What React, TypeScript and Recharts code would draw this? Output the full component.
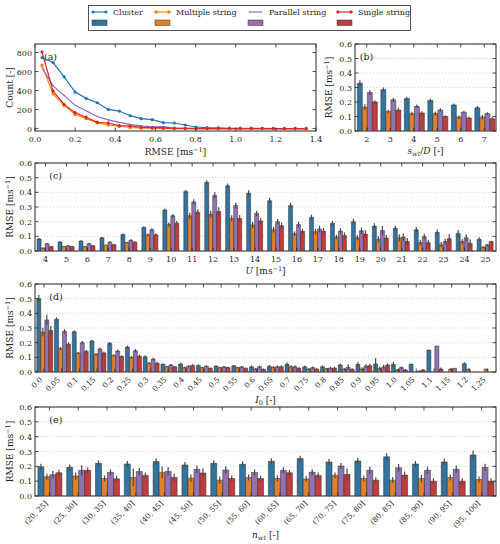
import React from 'react';
import {
  LineChart,
  Line,
  BarChart,
  Bar,
  ErrorBar,
  XAxis,
  YAxis,
  CartesianGrid,
  ReferenceArea,
} from 'recharts';

const FONT = '"DejaVu Serif", "Liberation Serif", serif';
const INK = '#262626';
const TICK = 3.5;
const AXIS_W = 35;

const seriesNames = ['Cluster', 'Multiple string', 'Parallel string', 'Single string'];
const lineColors = ['#1f77b4', '#ff7f0e', '#9467bd', '#d62728'];
const barColors = ['#3274a1', '#e1812c', '#9372b2', '#c03d3e'];
const markerKinds = ['circle', 'square', 'none', 'diamond'];

// (a) RMSE histogram, bin centres and counts
const rmseBins = [0.035, 0.09, 0.145, 0.2, 0.255, 0.31, 0.365, 0.42, 0.474, 0.529, 0.584, 0.639, 0.694, 0.748, 0.803, 0.858, 0.913, 0.968, 1.022, 1.077, 1.132, 1.187, 1.242, 1.296, 1.351];
const countCluster = [747, 695, 545, 384, 318, 272, 202, 185, 136, 105, 94, 63, 59, 38, 17, 10, 7, 4, 3, 2, 2, 1, 1, 0, 1];
const countMultiple = [665, 365, 245, 148, 105, 62, 38, 25, 12, 6, 4, 2, 1, 1, 0, 0, 0, 0, 0, 0, 0, 0, 0, 0, 0];
const countParallel = [640, 450, 350, 245, 188, 128, 92, 65, 45, 28, 18, 20, 5, 3, 1, 1, 0, 0, 0, 0, 0, 0, 0, 0, 0];
const countSingle = [806, 395, 255, 168, 119, 66, 59, 31, 28, 14, 10, 7, 3, 2, 2, 1, 1, 1, 0, 0, 0, 0, 0, 0, 0];
const rmseTicks = [0, 0.2, 0.4, 0.6, 0.8, 1.0, 1.2, 1.4];
const countTicks = [0, 200, 400, 600, 800];
const rmseTickLabels = ['0.0', '0.2', '0.4', '0.6', '0.8', '1.0', '1.2', '1.4'];

// (b) turbine spacing
const spacingCats = ['2', '3', '4', '5', '6', '7'];
const bCluster = [0.33, 0.285, 0.225, 0.21, 0.18, 0.16];
const bMultiple = [0.165, 0.135, 0.12, 0.12, 0.095, 0.095];
const bParallel = [0.265, 0.215, 0.17, 0.145, 0.13, 0.12];
const bSingle = [0.2, 0.145, 0.125, 0.1, 0.09, 0.085];
const bClusterErr = [0.02, 0.015, 0.012, 0.012, 0.01, 0.012];
const bMultipleErr = [0.02, 0.012, 0.012, 0.015, 0.012, 0.015];
const bParallelErr = [0.018, 0.015, 0.012, 0.012, 0.01, 0.01];
const bSingleErr = [0.012, 0.015, 0.012, 0.008, 0.008, 0.01];

// (c) wind speed
const speedCats = ['4', '5', '6', '7', '8', '9', '10', '11', '12', '13', '14', '15', '16', '17', '18', '19', '20', '21', '22', '23', '24', '25'];
const cCluster = [0.082, 0.061, 0.068, 0.09, 0.113, 0.16, 0.28, 0.405, 0.468, 0.445, 0.395, 0.343, 0.31, 0.23, 0.19, 0.2, 0.17, 0.155, 0.145, 0.127, 0.12, 0.08];
const cMultiple = [0.02, 0.03, 0.03, 0.04, 0.057, 0.11, 0.18, 0.24, 0.25, 0.222, 0.177, 0.145, 0.118, 0.132, 0.095, 0.09, 0.08, 0.09, 0.057, 0.043, 0.064, 0.025];
const cParallel = [0.05, 0.036, 0.05, 0.06, 0.073, 0.145, 0.24, 0.335, 0.378, 0.31, 0.257, 0.2, 0.18, 0.15, 0.136, 0.138, 0.14, 0.095, 0.098, 0.064, 0.09, 0.041];
const cSingle = [0.03, 0.03, 0.036, 0.043, 0.06, 0.11, 0.19, 0.265, 0.27, 0.222, 0.205, 0.173, 0.134, 0.136, 0.105, 0.116, 0.089, 0.064, 0.057, 0.084, 0.052, 0.064];
const cClusterErr = [0.006, 0.005, 0.006, 0.006, 0.007, 0.008, 0.01, 0.012, 0.014, 0.016, 0.02, 0.02, 0.02, 0.018, 0.016, 0.02, 0.02, 0.018, 0.018, 0.02, 0.024, 0.014];
const cMultipleErr = [0.004, 0.004, 0.004, 0.005, 0.006, 0.01, 0.014, 0.02, 0.024, 0.022, 0.02, 0.02, 0.016, 0.02, 0.016, 0.018, 0.02, 0.025, 0.02, 0.018, 0.016, 0.008];
const cParallelErr = [0.005, 0.005, 0.005, 0.006, 0.007, 0.01, 0.012, 0.018, 0.022, 0.02, 0.018, 0.018, 0.02, 0.022, 0.02, 0.022, 0.03, 0.025, 0.02, 0.02, 0.024, 0.008];
const cSingleErr = [0.004, 0.004, 0.005, 0.005, 0.006, 0.01, 0.014, 0.02, 0.028, 0.024, 0.018, 0.022, 0.018, 0.022, 0.022, 0.026, 0.02, 0.024, 0.02, 0.032, 0.026, 0.006];

// (d) turbulence intensity
const tiCats = ['0.0', '0.05', '0.1', '0.15', '0.2', '0.25', '0.3', '0.35', '0.4', '0.45', '0.5', '0.55', '0.6', '0.65', '0.7', '0.75', '0.8', '0.85', '0.9', '0.95', '1.0', '1.05', '1.1', '1.15', '1.2', '1.25'];
const dCluster = [0.5, 0.36, 0.274, 0.212, 0.196, 0.17, 0.104, 0.053, 0.055, 0.045, 0.04, 0.042, 0.036, 0.04, 0.052, 0.036, 0.036, 0.048, 0.052, 0.055, 0.052, 0.052, 0.15, null, 0.057, null];
const dMultiple = [0.272, 0.16, 0.13, 0.122, 0.113, 0.1, 0.06, 0.037, 0.03, 0.03, 0.03, 0.03, 0.02, 0.032, 0.036, 0.02, 0.023, 0.02, 0.02, 0.025, 0.014, null, null, 0.018, 0.018, 0.02];
const dParallel = [0.355, 0.277, 0.2, 0.157, 0.143, 0.145, 0.088, 0.048, 0.04, 0.04, 0.035, 0.035, 0.036, 0.036, 0.036, 0.03, 0.027, 0.032, 0.04, 0.034, 0.03, 0.007, 0.177, 0.025, null, null];
const dSingle = [0.283, 0.19, 0.14, 0.13, 0.106, 0.108, 0.06, 0.035, 0.045, 0.025, 0.03, 0.025, 0.018, 0.036, 0.025, 0.02, 0.027, 0.018, 0.043, 0.048, 0.014, 0.014, 0.02, null, null, null];
const dClusterErr = [0.025, 0.012, 0.01, 0.008, 0.008, 0.01, 0.01, 0.005, 0.008, 0.006, 0.006, 0.006, 0.008, 0.008, 0.014, 0.008, 0.008, 0.01, 0.014, 0.04, 0.018, 0.006, 0, null, 0.01, null];
const dMultipleErr = [0.03, 0.01, 0.008, 0.008, 0.008, 0.008, 0.008, 0.006, 0.006, 0.006, 0.006, 0.006, 0.008, 0.008, 0.01, 0.006, 0.006, 0.008, 0.012, 0.012, 0.006, null, null, 0.008, 0.006, 0];
const dParallelErr = [0.035, 0.015, 0.012, 0.01, 0.01, 0.012, 0.01, 0.006, 0.006, 0.006, 0.006, 0.006, 0.008, 0.008, 0.01, 0.008, 0.008, 0.02, 0.012, 0.016, 0.008, 0.004, 0, 0, null, null];
const dSingleErr = [0.03, 0.012, 0.01, 0.01, 0.008, 0.01, 0.008, 0.006, 0.008, 0.006, 0.006, 0.006, 0.006, 0.01, 0.008, 0.006, 0.008, 0.008, 0.014, 0.012, 0.006, 0.006, 0.01, null, null, null];

// (e) number of turbines
const countCats = ['(20, 25]', '(25, 30]', '(30, 35]', '(35, 40]', '(40, 45]', '(45, 50]', '(50, 55]', '(55, 60]', '(60, 65]', '(65, 70]', '(70, 75]', '(75, 80]', '(80, 85]', '(85, 90]', '(90, 95]', '(95, 100]'];
const eCluster = [0.197, 0.193, 0.22, 0.216, 0.232, 0.209, 0.22, 0.214, 0.234, 0.252, 0.23, 0.236, 0.264, 0.216, 0.23, 0.277];
const eMultiple = [0.13, 0.134, 0.118, 0.125, 0.159, 0.12, 0.107, 0.125, 0.118, 0.114, 0.139, 0.118, 0.107, 0.118, 0.125, 0.111];
const eParallel = [0.143, 0.173, 0.16, 0.166, 0.166, 0.18, 0.175, 0.159, 0.173, 0.161, 0.202, 0.173, 0.191, 0.173, 0.18, 0.193];
const eSingle = [0.157, 0.173, 0.116, 0.139, 0.125, 0.155, 0.118, 0.118, 0.157, 0.139, 0.145, 0.107, 0.141, 0.1, 0.1, 0.1];
const eClusterErr = [0.02, 0.02, 0.02, 0.02, 0.022, 0.02, 0.02, 0.02, 0.02, 0.02, 0.02, 0.02, 0.025, 0.02, 0.022, 0.03];
const eMultipleErr = [0.02, 0.025, 0.02, 0.06, 0.04, 0.025, 0.025, 0.02, 0.02, 0.02, 0.02, 0.02, 0.02, 0.025, 0.02, 0.02];
const eParallelErr = [0.025, 0.035, 0.02, 0.025, 0.03, 0.025, 0.025, 0.02, 0.02, 0.02, 0.02, 0.025, 0.025, 0.025, 0.025, 0.025];
const eSingleErr = [0.02, 0.02, 0.02, 0.02, 0.025, 0.03, 0.02, 0.02, 0.02, 0.02, 0.04, 0.02, 0.025, 0.02, 0.02, 0.02];

const rmseAxisTicks = [0, 0.1, 0.2, 0.3, 0.4, 0.5, 0.6];

type Row = Record<string, string | number | null>;

const histRows: Row[] = rmseBins.map((x, i) => ({
  x,
  c0: countCluster[i],
  c1: countMultiple[i],
  c2: countParallel[i],
  c3: countSingle[i],
}));

const buildRows = (cats: string[], vals: (number | null)[][], errs: (number | null)[][]): Row[] =>
  cats.map((cat, i) => {
    const r: Row = { cat };
    vals.forEach((v, k) => {
      r['v' + k] = v[i];
      r['e' + k] = errs[k][i];
    });
    return r;
  });

const spacingRows = buildRows(spacingCats, [bCluster, bMultiple, bParallel, bSingle], [bClusterErr, bMultipleErr, bParallelErr, bSingleErr]);
const speedRows = buildRows(speedCats, [cCluster, cMultiple, cParallel, cSingle], [cClusterErr, cMultipleErr, cParallelErr, cSingleErr]);
const tiRows = buildRows(tiCats, [dCluster, dMultiple, dParallel, dSingle], [dClusterErr, dMultipleErr, dParallelErr, dSingleErr]);
const countRows = buildRows(countCats, [eCluster, eMultiple, eParallel, eSingle], [eClusterErr, eMultipleErr, eParallelErr, eSingleErr]);

// inward ticks on bottom and top, label under the bottom one
const xTick = (plotH: number, slant: boolean, fmt?: (v: any) => string) => (p: any) => {
  const { x, y, payload } = p;
  const text = fmt ? fmt(payload.value) : String(payload.value);
  return (
    <g>
      <line x1={x} x2={x} y1={y} y2={y - TICK} stroke={INK} strokeWidth={0.8} />
      <line x1={x} x2={x} y1={y - plotH} y2={y - plotH + TICK} stroke={INK} strokeWidth={0.8} />
      {slant ? (
        <text
          transform={`translate(${x - 1},${y + 8}) rotate(-45)`}
          textAnchor="end"
          fontSize={7.5}
          fontFamily={FONT}
          fill={INK}
        >
          {text}
        </text>
      ) : (
        <text x={x} y={y + 11} textAnchor="middle" fontSize={8} fontFamily={FONT} fill={INK}>
          {text}
        </text>
      )}
    </g>
  );
};

// inward ticks on left and right, label left of the axis
const yTick = (plotW: number, fmt: (v: number) => string) => (p: any) => {
  const { x, y, payload } = p;
  return (
    <g>
      <line x1={x} x2={x + TICK} y1={y} y2={y} stroke={INK} strokeWidth={0.8} />
      <line x1={x + plotW} x2={x + plotW - TICK} y1={y} y2={y} stroke={INK} strokeWidth={0.8} />
      <text x={x - 3} y={y + 3} textAnchor="end" fontSize={8} fontFamily={FONT} fill={INK}>
        {fmt(payload.value)}
      </text>
    </g>
  );
};

const frame = (tag: string, dx: number) => (p: any) => (
  <g>
    <rect x={p.x} y={p.y} width={p.width} height={p.height} fill="none" stroke={INK} strokeWidth={1} />
    <text x={p.x + dx} y={p.y + 15.5} fontSize={9.5} fontFamily={FONT} fill={INK}>
      {tag}
    </text>
  </g>
);

const yTitle = (cx: number, cy: number, body: React.ReactNode) => () => (
  <text transform={`translate(${cx},${cy}) rotate(-90)`} textAnchor="middle" fontSize={9} fontFamily={FONT} fill={INK}>
    {body}
  </text>
);

const xTitle = (cx: number, y: number, body: React.ReactNode) => () => (
  <text x={cx} y={y} textAnchor="middle" fontSize={9} fontFamily={FONT} fill={INK}>
    {body}
  </text>
);

const unit = (
  <>
    <tspan>[ms</tspan>
    <tspan dy={-3.5} fontSize={6.5}>−1</tspan>
    <tspan dy={3.5}>]</tspan>
  </>
);

const rmseTitle = (
  <>
    <tspan>RMSE </tspan>
    {unit}
  </>
);

const marker = (kind: string, cx: number, cy: number, color: string, key?: string) => {
  if (kind === 'circle') return <circle key={key} cx={cx} cy={cy} r={1.6} fill={color} />;
  if (kind === 'square') return <rect key={key} x={cx - 1.5} y={cy - 1.5} width={3} height={3} fill={color} />;
  if (kind === 'diamond')
    return <polygon key={key} points={`${cx},${cy - 2} ${cx + 2},${cy} ${cx},${cy + 2} ${cx - 2},${cy}`} fill={color} />;
  return <circle key={key} cx={cx} cy={cy} r={0.6} fill={color} />;
};

const legendCols = [93, 156, 249, 338];

const LegendBox = () => (
  <svg width={500} height={36} style={{ position: 'absolute', left: 0, top: 0 }}>
    <rect x={88.5} y={5.5} width={322} height={25} fill="#fff" stroke={INK} strokeWidth={0.8} />
    {seriesNames.map((name, i) => {
      const m = legendCols[i];
      return (
        <g key={name}>
          <line x1={m} x2={m + 13} y1={12} y2={12} stroke={lineColors[i]} strokeWidth={1.2} />
          {marker(markerKinds[i], m, 12, lineColors[i])}
          {marker(markerKinds[i], m + 13, 12, lineColors[i])}
          <text x={m + 20} y={15} fontSize={8} fontFamily={FONT} fill={INK}>
            {name}
          </text>
          <rect x={m - 1} y={20} width={15} height={5.5} fill={barColors[i]} stroke="#333" strokeWidth={0.5} />
        </g>
      );
    })}
  </svg>
);

const HistPanel = () => {
  const w = 330;
  const h = 130;
  const mt = 8;
  const mr = 14;
  const xh = 35;
  const plotH = h - mt - xh;
  const plotW = w - AXIS_W - mr;
  return (
    <div style={{ position: 'absolute', left: 0, top: 36 }}>
      <LineChart width={w} height={h} data={histRows} margin={{ top: mt, right: mr, bottom: 0, left: 0 }}>
        <XAxis
          type="number"
          dataKey="x"
          domain={[0, 1.4]}
          ticks={rmseTicks}
          interval={0}
          allowDataOverflow
          tickSize={0}
          tickMargin={0}
          axisLine={false}
          tickLine={false}
          height={xh}
          tick={xTick(plotH, false, (v: number) => rmseTickLabels[rmseTicks.indexOf(v)] ?? v.toFixed(1))}
          label={xTitle(AXIS_W + plotW / 2, mt + plotH + 24, rmseTitle)}
        />
        <YAxis
          type="number"
          domain={[-25, 890]}
          ticks={countTicks}
          interval={0}
          allowDataOverflow
          width={AXIS_W}
          tickSize={0}
          tickMargin={0}
          axisLine={false}
          tickLine={false}
          tick={yTick(plotW, (v) => String(v))}
          label={yTitle(13, mt + plotH / 2, 'Count [-]')}
        />
        {lineColors.map((c, k) => (
          <Line
            key={k}
            dataKey={'c' + k}
            stroke={c}
            strokeWidth={1.2}
            isAnimationActive={false}
            dot={(p: any) => marker(markerKinds[k], p.cx, p.cy, c, `d${k}-${p.index}`)}
            activeDot={false}
          />
        ))}
        <ReferenceArea y1={-25} y2={890} ifOverflow="visible" shape={frame('(a)', 9)} />
      </LineChart>
    </div>
  );
};

type BarPanelProps = {
  data: Row[];
  left: number;
  top: number;
  width: number;
  height: number;
  xh: number;
  tag: string;
  slant?: boolean;
  xLabel: React.ReactNode;
  xLabelDy: number;
  yLabelX: number;
};

const mt = 8;
const mr = 4;

const BarPanel = ({ data, left, top, width, height, xh, tag, slant, xLabel, xLabelDy, yLabelX }: BarPanelProps) => {
  const plotH = height - mt - xh;
  const plotW = width - AXIS_W - mr;
  return (
    <div style={{ position: 'absolute', left, top }}>
      <BarChart
        width={width}
        height={height}
        data={data}
        margin={{ top: mt, right: mr, bottom: 0, left: 0 }}
        barCategoryGap="10%"
        barGap={0}
      >
        <CartesianGrid vertical={false} stroke="#c8c8c8" strokeDasharray="1 2" strokeWidth={0.8} />
        <XAxis
          dataKey="cat"
          interval={0}
          tickSize={0}
          tickMargin={0}
          axisLine={false}
          tickLine={false}
          height={xh}
          tick={xTick(plotH, !!slant)}
          label={xTitle(AXIS_W + plotW / 2, mt + plotH + xLabelDy, xLabel)}
        />
        <YAxis
          type="number"
          domain={[0, 0.6]}
          ticks={rmseAxisTicks}
          interval={0}
          allowDataOverflow
          width={AXIS_W}
          tickSize={0}
          tickMargin={0}
          axisLine={false}
          tickLine={false}
          tick={yTick(plotW, (v) => v.toFixed(1))}
          label={yTitle(yLabelX, mt + plotH / 2, rmseTitle)}
        />
        {barColors.map((c, k) => (
          <Bar key={k} dataKey={'v' + k} fill={c} stroke="#2a2a2a" strokeWidth={0.5} isAnimationActive={false}>
            <ErrorBar dataKey={'e' + k} width={0} stroke="#4a4a4a" strokeWidth={1.2} direction="y" />
          </Bar>
        ))}
        <ReferenceArea y1={0} y2={0.6} ifOverflow="visible" shape={frame(tag, plotW * 0.03 + 0.5)} />
      </BarChart>
    </div>
  );
};

const spacingTitle = (
  <>
    <tspan fontStyle="italic">s</tspan>
    <tspan fontSize={6.5} dy={2} fontStyle="italic">wt</tspan>
    <tspan dy={-2}>/</tspan>
    <tspan fontStyle="italic">D</tspan>
    <tspan> [-]</tspan>
  </>
);

const speedTitle = (
  <>
    <tspan fontStyle="italic">U</tspan>
    <tspan> </tspan>
    {unit}
  </>
);

const tiTitle = (
  <>
    <tspan fontStyle="italic">I</tspan>
    <tspan fontSize={6.5} dy={2}>0</tspan>
    <tspan dy={-2}> [-]</tspan>
  </>
);

const nTitle = (
  <>
    <tspan fontStyle="italic">n</tspan>
    <tspan fontSize={6.5} dy={2} fontStyle="italic">wt</tspan>
    <tspan dy={-2}> [-]</tspan>
  </>
);

export default function App() {
  return (
    <div
      style={{
        position: 'absolute',
        left: 0,
        top: 0,
        width: 500,
        height: 544,
        background: '#fff',
        overflow: 'hidden',
      }}
    >
      <LegendBox />
      <HistPanel />
      <BarPanel data={spacingRows} left={320} top={36} width={180} height={130} xh={35} tag="(b)" xLabel={spacingTitle} xLabelDy={22.5} yLabelX={12} />
      <BarPanel data={speedRows} left={0} top={155} width={500} height={130} xh={34} tag="(c)" xLabel={speedTitle} xLabelDy={23} yLabelX={13} />
      <BarPanel data={tiRows} left={0} top={276} width={500} height={136} xh={40} tag="(d)" slant xLabel={tiTitle} xLabelDy={30.5} yLabelX={13} />
      <BarPanel data={countRows} left={0} top={399} width={500} height={145} xh={48} tag="(e)" slant xLabel={nTitle} xLabelDy={41.5} yLabelX={13} />
    </div>
  );
}
